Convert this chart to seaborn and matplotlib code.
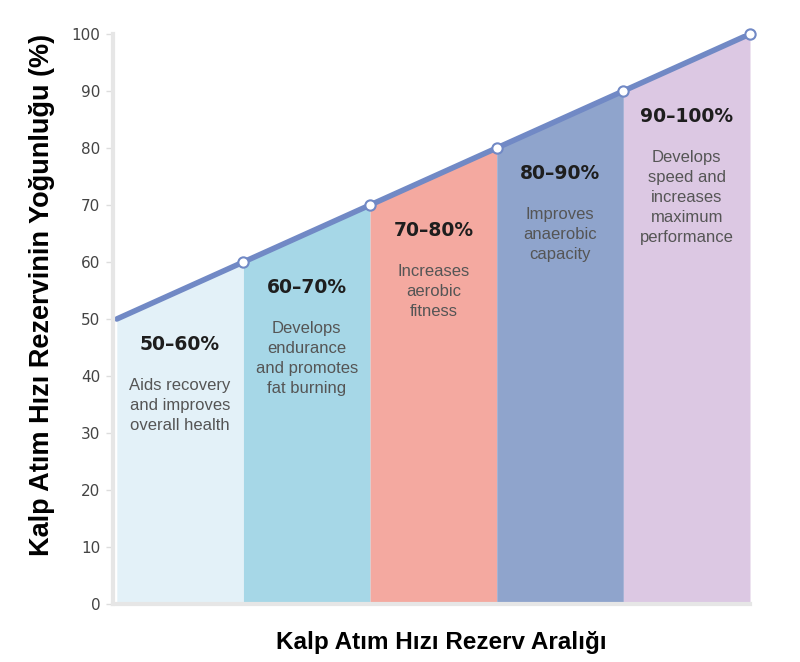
"""Heart rate reserve zones chart, saved to out.png."""

import matplotlib
matplotlib.use("Agg")

import matplotlib.pyplot as plt
import pandas as pd
import seaborn as sns

# zone boundaries on the x axis and intensity (%) at each boundary
boundaries = [0, 1, 2, 3, 4, 5]
intensity = [50, 60, 70, 80, 90, 100]

zone_labels = ["50–60%", "60–70%", "70–80%", "80–90%", "90–100%"]
zone_texts = [
    "Aids recovery\nand improves\noverall health",
    "Develops\nendurance\nand promotes\nfat burning",
    "Increases\naerobic\nfitness",
    "Improves\nanaerobic\ncapacity",
    "Develops\nspeed and\nincreases\nmaximum\nperformance",
]
zone_colors = ["#e3f1f8", "#a6d7e7", "#f4a9a0", "#8fa4cc", "#dcc8e3"]
y_ticks = [0, 10, 20, 30, 40, 50, 60, 70, 80, 90, 100]

sns.set_theme(style="white")
plt.rcParams["font.family"] = ["Liberation Sans", "DejaVu Sans"]

df = pd.DataFrame({"x": boundaries, "y": intensity})

fig = plt.figure(figsize=(8, 6.62), dpi=100)
ax = fig.add_axes([113 / 800, 1 - 604 / 662, 637 / 800, 570 / 662])

for i, color in enumerate(zone_colors):
    x0, x1 = boundaries[i], boundaries[i + 1]
    ax.fill_between([x0, x1], [intensity[i], intensity[i + 1]], 0,
                    color=color, linewidth=0)

sns.lineplot(data=df, x="x", y="y", color="#7189c5", linewidth=4, ax=ax)
sns.scatterplot(data=df.iloc[1:], x="x", y="y", color="white",
                edgecolor="#7189c5", linewidth=1.5, s=55, zorder=5,
                clip_on=False, ax=ax)

for i, (label, text) in enumerate(zip(zone_labels, zone_texts)):
    cx = (boundaries[i] + boundaries[i + 1]) / 2
    top = intensity[i]
    ax.text(cx, top - 4.4, label, ha="center", va="center",
            fontsize=13.5, fontweight="bold", color="#1e1e1e",
            family=["DejaVu Sans"])
    ax.text(cx, top - 10.4, text, ha="center", va="top", fontsize=12,
            color="#555555", linespacing=1.42,
            family=["Liberation Sans", "DejaVu Sans"])

ax.set_xlim(-0.03, 5)
ax.set_ylim(0, 100)
ax.set_yticks(y_ticks)
ax.set_xticks([])
ax.tick_params(axis="y", length=5, width=1, color="#dddddd",
               labelsize=11, labelcolor="#444444", pad=4, left=True)
for lbl in ax.get_yticklabels():
    lbl.set_family(["DejaVu Sans"])

for side in ["top", "right"]:
    ax.spines[side].set_visible(False)
for side in ["left", "bottom"]:
    ax.spines[side].set_color("#e6e6e6")
    ax.spines[side].set_linewidth(3)

ax.set_xlabel("Kalp Atım Hızı Rezerv Aralığı", fontsize=17.5,
              fontweight="bold", color="black")
ax.set_ylabel("Kalp Atım Hızı Rezervinin Yoğunluğu (%)", fontsize=19.5,
              fontweight="bold", color="black")
ax.xaxis.set_label_coords(0.515, -0.047)
ax.yaxis.set_label_coords(-0.091, 0.542)

fig.savefig("out.png", dpi=100)
plt.close(fig)
